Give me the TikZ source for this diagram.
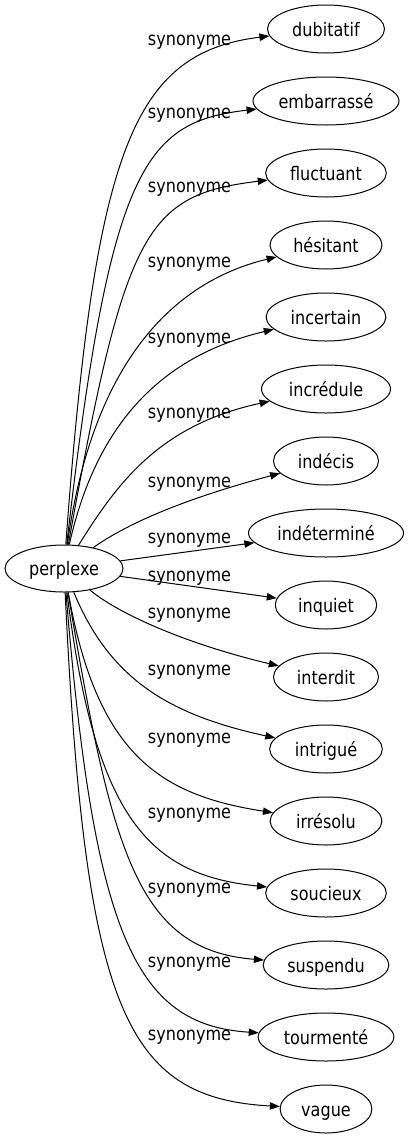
\documentclass[tikz,border=0pt]{standalone}
\usepackage{fontspec}
\setmainfont{DejaVu Sans}[FakeStretch=0.86]
\usetikzlibrary{arrows.meta,shapes.geometric}
\begin{document}
\begin{tikzpicture}[x=0.75pt,y=-0.75pt,
  font=\fontsize{14pt}{16pt}\selectfont,
  line width=0.75pt,
  word/.style={draw, ellipse, inner sep=0pt, minimum height=36pt, text height=10.5pt, text depth=0pt},
  lbl/.style={anchor=base, inner sep=0pt},
  syn/.style={draw, -{Triangle[length=7.5pt,width=5.5pt]}}]
\useasboundingbox (0,0) rectangle (409,1139);
\node[word, minimum width=88.5pt, minimum height=35.25pt] (p) at (64,568.5) {perplexe};
\node[word, minimum width=87.75pt] (dub) at (326,29) {dubitatif};
\node[word, minimum width=109.5pt] (emb) at (326,101) {embarrassé};
\node[word, minimum width=90.5pt] (fluc) at (326,173) {fluctuant};
\node[word, minimum width=84pt] (hes) at (326,245) {hésitant};
\node[word, minimum width=89.8pt] (incert) at (326,317) {incertain};
\node[word, minimum width=96.75pt] (incred) at (326,389) {incrédule};
\node[word, minimum width=78.75pt] (indec) at (326,461) {indécis};
\node[word, minimum width=116.25pt] (indet) at (326,533) {indéterminé};
\node[word, minimum width=76.1pt] (inq) at (326,605) {inquiet};
\node[word, minimum width=78.75pt] (interd) at (326,677) {interdit};
\node[word, minimum width=84.5pt] (intrig) at (326,749) {intrigué};
\node[word, minimum width=83.8pt] (irres) at (326,821) {irrésolu};
\node[word, minimum width=90.5pt] (souc) at (326,893) {soucieux};
\node[word, minimum width=94.3pt] (susp) at (326,965) {suspendu};
\node[word, minimum width=101.8pt] (tourm) at (326,1037) {tourmenté};
\node[word, minimum width=68.8pt] (vag) at (326,1109) {vague};
% labels
\node[lbl] (l0) at (189.5,45) {synonyme};
\node[lbl] (l1) at (189.5,118) {synonyme};
\node[lbl] (l2) at (189.5,192) {synonyme};
\node[lbl] (l3) at (189.5,267) {synonyme};
\node[lbl] (l4) at (189.5,343) {synonyme};
\node[lbl] (l5) at (189.5,418) {synonyme};
\node[lbl] (l6) at (189.5,487) {synonyme};
\node[lbl] (l7) at (189.5,543) {synonyme};
\node[lbl] (l8) at (189.5,581) {synonyme};
\node[lbl] (l9) at (189.5,618) {synonyme};
\node[lbl] (l10) at (189.5,675) {synonyme};
\node[lbl] (l11) at (189.5,743) {synonyme};
\node[lbl] (l12) at (189.5,818) {synonyme};
\node[lbl] (l13) at (189.5,893) {synonyme};
\node[lbl] (l14) at (189.5,967) {synonyme};
\node[lbl] (l15) at (189.5,1040) {synonyme};
% edges
\draw[syn] (p) .. controls (95,150) and (132,53) .. (dub);
\draw[syn] (p) .. controls (110,165) and (145,122) .. (emb);
\draw[syn] (p) .. controls (125,230) and (145,195) .. (fluc);
\draw[syn] (p) .. controls (90,380) and (160,285) .. (hes);
\draw[syn] (p) .. controls (97,420) and (165,355) .. (incert);
\draw[syn] (p) .. controls (118,482) and (160,425) .. (incred);
\draw[syn] (p) .. controls (125,525) and (180,500) .. (indec);
\draw[syn] (p) -- (indet);
\draw[syn] (p) -- (inq);
\draw[syn] (p) .. controls (120,615) and (190,645) .. (interd);
\draw[syn] (p) .. controls (110,680) and (170,715) .. (intrig);
\draw[syn] (p) .. controls (97,755) and (160,795) .. (irres);
\draw[syn] (p) .. controls (95,820) and (150,875) .. (souc);
\draw[syn] (p) .. controls (112,855) and (138,950) .. (susp);
\draw[syn] (p) .. controls (94,935) and (135,1025) .. (tourm);
\draw[syn] (p) .. controls (85,1010) and (125,1098) .. (vag);
\end{tikzpicture}
\end{document}
